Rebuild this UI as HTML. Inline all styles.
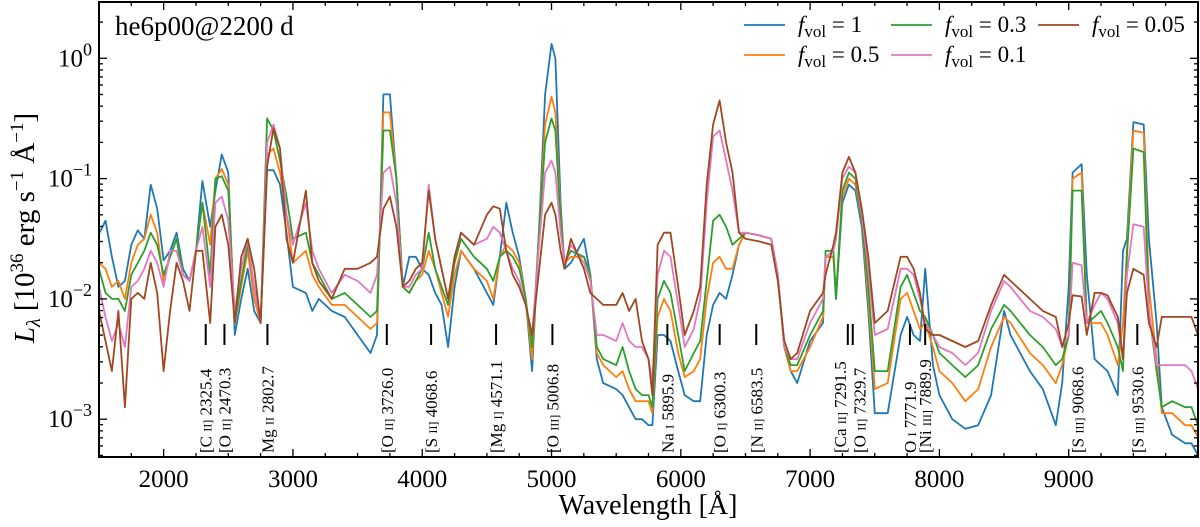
<!DOCTYPE html>
<html><head><meta charset="utf-8">
<style>
html,body{margin:0;padding:0;background:#fff;}
svg{display:block;font-family:"Liberation Serif",serif;}
</style></head>
<body>
<svg id="chart" width="1200" height="527" viewBox="0 0 1200 527" xmlns="http://www.w3.org/2000/svg">
<defs><clipPath id="plotclip"><rect x="99" y="2" width="1099" height="455"/></clipPath></defs>
<g id="series" clip-path="url(#plotclip)"></g>
<g id="markers"></g>
<g id="axes"></g>
<text x="115" y="35" font-size="27">he6p00@2200 d</text>
<text x="648" y="514" font-size="28" text-anchor="middle">Wavelength [Å]</text>
<text transform="translate(34,228) rotate(-90)" font-size="29" text-anchor="middle"><tspan font-style="italic">L</tspan><tspan font-style="italic" font-size="20" dy="6">λ</tspan><tspan dy="-6"> [10</tspan><tspan font-size="19" dy="-11">36</tspan><tspan dy="11"> erg s</tspan><tspan font-size="19" dy="-11">−1</tspan><tspan dy="11"> Å</tspan><tspan font-size="19" dy="-11">−1</tspan><tspan dy="11">]</tspan></text>
<g id="legend"></g>
</svg>
<script>
const wavelengths = [1500,1550,1600,1650,1700,1750,1800,1850,1900,1950,2000,2050,2100,2150,2200,2250,2300,2360,2400,2450,2500,2550,2600,2650,2700,2750,2800,2850,2900,2950,3000,3100,3150,3200,3300,3400,3500,3600,3650,3700,3750,3800,3850,3900,3950,4000,4050,4100,4150,4200,4250,4300,4400,4500,4550,4600,4650,4700,4750,4800,4850,4900,4950,5000,5030,5070,5100,5150,5250,5300,5350,5400,5500,5550,5600,5650,5700,5750,5780,5820,5870,5920,5980,6030,6100,6150,6200,6250,6300,6350,6400,6450,6500,6600,6700,6750,6800,6850,6900,7000,7100,7120,7180,7200,7250,7300,7350,7400,7450,7500,7600,7700,7750,7800,7850,7890,7950,8000,8100,8200,8300,8400,8500,8550,8700,8800,8900,8950,9000,9030,9100,9140,9200,9250,9300,9380,9420,9450,9500,9580,9620,9680,9720,9800,9900,9950,10000];
const logL_f1 = [-1.46,-1.35,-1.65,-1.9,-1.85,-1.55,-1.43,-1.5,-1.05,-1.25,-1.68,-1.6,-1.45,-1.75,-1.85,-1.6,-1.02,-1.4,-1.1,-0.8,-0.95,-2.3,-2.0,-1.75,-2.1,-2.2,-0.93,-0.93,-1.05,-1.45,-1.9,-1.95,-2.1,-2.0,-2.1,-2.15,-2.3,-2.45,-2.3,-0.3,-0.3,-1.0,-1.9,-1.65,-1.65,-1.75,-1.8,-1.95,-2.05,-2.4,-1.9,-1.6,-1.75,-1.95,-2.05,-1.65,-1.2,-1.45,-1.65,-2.0,-2.6,-1.5,-0.3,0.12,0.0,-1.2,-1.75,-1.7,-1.5,-1.8,-2.5,-2.7,-2.75,-2.8,-2.9,-3.0,-3.0,-3.05,-3.05,-2.3,-2.3,-2.35,-2.6,-2.8,-2.85,-2.85,-2.3,-2.05,-1.95,-2.0,-1.8,-1.55,-1.45,-1.47,-1.5,-1.8,-2.4,-2.6,-2.7,-2.35,-2.2,-1.65,-1.65,-2.0,-1.2,-1.05,-1.1,-1.4,-2.1,-2.95,-2.95,-2.3,-2.15,-2.3,-2.35,-1.75,-2.55,-2.8,-3.0,-3.08,-3.05,-2.8,-2.1,-2.3,-2.6,-2.75,-3.05,-2.7,-1.9,-0.95,-0.88,-1.8,-2.5,-2.55,-2.6,-2.8,-1.6,-1.5,-0.53,-0.55,-1.5,-2.2,-2.9,-3.13,-3.2,-3.2,-3.3];
const logL_f05 = [-1.7,-1.75,-1.9,-1.85,-2.0,-1.7,-1.55,-1.5,-1.3,-1.45,-1.85,-1.65,-1.5,-1.8,-1.85,-1.6,-1.2,-1.55,-1.0,-0.92,-1.05,-2.2,-1.9,-1.6,-2.0,-2.2,-0.8,-0.75,-0.95,-1.3,-1.7,-1.6,-1.8,-1.9,-2.05,-2.05,-2.15,-2.25,-2.2,-0.45,-0.45,-1.0,-1.9,-1.95,-1.85,-1.8,-1.6,-1.75,-1.95,-2.15,-1.8,-1.6,-1.75,-1.85,-2.0,-1.65,-1.55,-1.6,-1.7,-2.0,-2.5,-1.5,-0.55,-0.32,-0.45,-1.3,-1.7,-1.65,-1.65,-1.8,-2.45,-2.55,-2.65,-2.6,-2.75,-2.85,-2.85,-2.85,-2.95,-2.15,-2.0,-2.1,-2.45,-2.65,-2.6,-2.5,-2.0,-1.7,-1.65,-1.75,-1.75,-1.55,-1.45,-1.47,-1.5,-1.8,-2.4,-2.6,-2.6,-2.4,-2.15,-1.65,-1.65,-1.95,-1.15,-1.0,-1.05,-1.35,-2.0,-2.75,-2.7,-2.0,-1.95,-2.1,-2.25,-2.2,-2.4,-2.6,-2.7,-2.85,-2.75,-2.4,-2.15,-2.2,-2.45,-2.55,-2.7,-2.55,-2.3,-1.0,-0.95,-2.2,-2.2,-2.2,-2.3,-2.55,-2.2,-1.6,-0.6,-0.62,-1.9,-2.5,-2.95,-2.95,-3.05,-3.05,-3.15];
const logL_f03 = [-1.75,-1.95,-2.0,-2.0,-2.1,-1.8,-1.7,-1.6,-1.45,-1.55,-1.8,-1.65,-1.5,-1.8,-1.85,-1.6,-1.2,-1.8,-1.0,-0.98,-1.1,-2.2,-1.85,-1.55,-1.9,-2.2,-0.5,-0.6,-0.85,-1.15,-1.5,-1.45,-1.7,-1.8,-2.0,-1.95,-2.05,-2.15,-2.1,-0.6,-0.6,-1.0,-1.9,-1.95,-1.85,-1.75,-1.45,-1.75,-1.9,-2.05,-1.7,-1.5,-1.65,-1.75,-1.85,-1.65,-1.6,-1.65,-1.75,-2.0,-2.4,-1.5,-0.7,-0.5,-0.6,-1.35,-1.7,-1.6,-1.65,-1.8,-2.4,-2.5,-2.55,-2.4,-2.6,-2.75,-2.8,-2.8,-2.9,-2.0,-1.85,-1.95,-2.3,-2.6,-2.45,-2.35,-1.85,-1.35,-1.3,-1.4,-1.55,-1.5,-1.45,-1.47,-1.5,-1.8,-2.4,-2.55,-2.55,-2.3,-2.1,-1.6,-1.6,-2.0,-1.1,-0.95,-1.0,-1.35,-1.9,-2.6,-2.6,-1.9,-1.8,-1.95,-2.1,-2.15,-2.3,-2.45,-2.55,-2.65,-2.55,-2.25,-2.05,-2.1,-2.3,-2.4,-2.55,-2.5,-2.3,-1.1,-1.1,-2.2,-2.15,-2.1,-2.2,-2.4,-2.6,-1.65,-0.75,-0.78,-2.1,-2.6,-2.9,-2.85,-2.9,-2.9,-3.05];
const logL_f01 = [-1.9,-2.15,-2.35,-2.2,-2.4,-1.9,-1.85,-1.75,-1.6,-1.7,-1.9,-1.6,-1.6,-1.8,-1.85,-1.6,-1.4,-1.9,-1.2,-1.15,-1.35,-2.1,-1.75,-1.5,-1.9,-2.2,-0.7,-0.55,-0.75,-1.3,-1.55,-1.2,-1.6,-1.75,-1.95,-1.8,-1.85,-1.95,-1.8,-0.95,-0.9,-1.2,-1.9,-1.9,-1.8,-1.75,-1.05,-1.5,-1.75,-2.0,-1.65,-1.45,-1.55,-1.5,-1.4,-1.45,-1.6,-1.75,-1.85,-2.05,-2.3,-1.6,-0.95,-0.85,-0.95,-1.45,-1.7,-1.55,-1.7,-1.85,-2.3,-2.3,-2.35,-2.2,-2.35,-2.4,-2.4,-2.5,-2.7,-1.8,-1.6,-1.65,-2.05,-2.4,-2.25,-2.0,-1.2,-0.65,-0.6,-0.85,-1.1,-1.45,-1.45,-1.47,-1.5,-1.8,-2.4,-2.5,-2.5,-2.2,-2.0,-1.65,-1.6,-1.5,-1.0,-0.9,-0.95,-1.3,-1.75,-2.3,-2.25,-1.75,-1.75,-1.8,-2.0,-2.2,-2.3,-2.4,-2.45,-2.55,-2.45,-2.1,-1.85,-1.9,-2.1,-2.15,-2.25,-2.4,-2.3,-1.7,-1.72,-2.2,-2.05,-1.95,-2.0,-2.2,-2.5,-1.8,-1.38,-1.4,-2.1,-2.55,-2.55,-2.55,-2.55,-2.6,-2.75];
const logL_f005 = [-2.1,-2.35,-2.6,-2.1,-2.9,-2.0,-1.95,-2.0,-1.7,-1.95,-2.6,-2.1,-1.7,-1.85,-2.1,-1.6,-1.6,-2.2,-1.4,-1.3,-1.55,-2.2,-1.65,-1.5,-1.75,-2.2,-0.9,-0.58,-0.75,-1.5,-1.7,-1.1,-1.7,-1.85,-2.0,-1.75,-1.75,-1.7,-1.65,-1.25,-1.15,-1.4,-1.9,-1.85,-1.75,-1.7,-1.1,-1.5,-1.75,-2.0,-1.65,-1.45,-1.55,-1.3,-1.23,-1.25,-1.6,-1.8,-1.9,-2.05,-2.3,-1.8,-1.3,-1.2,-1.3,-1.6,-1.75,-1.5,-1.75,-1.95,-2.0,-2.05,-2.05,-1.95,-2.1,-2.0,-2.35,-2.5,-2.8,-1.55,-1.45,-1.45,-1.9,-2.3,-2.1,-1.9,-1.05,-0.55,-0.35,-0.7,-0.95,-1.45,-1.5,-1.52,-1.55,-1.85,-2.35,-2.5,-2.45,-2.1,-1.95,-1.8,-1.55,-1.45,-0.95,-0.82,-0.95,-1.25,-1.65,-2.2,-2.1,-1.65,-1.65,-1.75,-1.95,-2.25,-2.3,-2.3,-2.35,-2.4,-2.35,-2.05,-1.8,-1.85,-2.0,-2.1,-2.15,-2.4,-2.2,-1.97,-1.98,-2.3,-1.95,-1.95,-1.97,-2.15,-2.5,-1.95,-1.75,-1.8,-2.2,-2.4,-2.15,-2.15,-2.15,-2.15,-2.3];
const seriesLabels = ["1","0.5","0.3","0.1","0.05"];
const seriesColors = ["#1f77b4","#ff7f0e","#2ca02c","#e377c2","#a0481f"];
const xTicks = [2000,3000,4000,5000,6000,7000,8000,9000];
const yTickExps = [0,-1,-2,-3];
const lineWaves = [2325.4,2470.3,2802.7,3726.0,4068.6,4571.1,5006.8,5895.9,6300.3,6583.5,7291.5,7329.7,7771.9,7889.9,9068.6,9530.6];
const lineIons = ["[C ","[O ","Mg ","[O ","[S ","[Mg ","[O ","Na ","[O ","[N ","[Ca ","[O ","O ","[Ni ","[S ","[S "];
const lineStages = ["II]","II]","II","II]","II]","I]","III]","I","I]","II]","II]","II]","I","III]","III]","III]"];

const NS="http://www.w3.org/2000/svg";
const X0=99,X1=1198,Y0=2,Y1=457;
const xmin=1500,xmax=10000;
const yTop=58.3, dec=120.3;
function xs(l){return X0+(l-xmin)/(xmax-xmin)*(X1-X0);}
function ys(lg){return yTop-lg*dec;}
function mk(tag,attrs,parent){const e=document.createElementNS(NS,tag);for(const k in attrs)e.setAttribute(k,attrs[k]);if(parent)parent.appendChild(e);return e;}

const sg=document.getElementById('series');
const allSeries=[logL_f1,logL_f05,logL_f03,logL_f01,logL_f005];
const seriesNames=['series-fvol-1','series-fvol-0.5','series-fvol-0.3','series-fvol-0.1','series-fvol-0.05'];
allSeries.forEach((arr,i)=>{
  let d='';
  arr.forEach((v,j)=>{d+=(j?'L':'M')+xs(wavelengths[j]).toFixed(1)+' '+ys(v).toFixed(1);});
  const p=mk('path',{d:d,fill:'none',stroke:seriesColors[i],'stroke-width':1.8,'stroke-linejoin':'round'},sg);
  
  
});

const ax=document.getElementById('axes');
const frame=mk('rect',{x:X0,y:Y0,width:X1-X0,height:Y1-Y0,fill:'none',stroke:'#000','stroke-width':2},ax);


for(let l=1500;l<=10000;l+=250){
  const x=xs(l); const major=(l%1000===0);
  const L=major?8:4;
  mk('line',{x1:x,x2:x,y1:Y1,y2:Y1-L,stroke:'#000','stroke-width':1.3},ax);
  mk('line',{x1:x,x2:x,y1:Y0,y2:Y0+L,stroke:'#000','stroke-width':1.3},ax);
}
xTicks.forEach(t=>{
  const tx=mk('text',{x:xs(t),y:487,'font-size':25,'text-anchor':'middle'},ax);
  tx.textContent=t;
  
  
});
for(let e=-4;e<=0;e++){
  for(let m=1;m<10;m++){
    const lg=e+Math.log10(m); const y=ys(lg);
    if(y<Y0||y>Y1) continue;
    const L=(m===1)?8:4;
    mk('line',{x1:X0,x2:X0+L,y1:y,y2:y,stroke:'#000','stroke-width':1.3},ax);
    mk('line',{x1:X1,x2:X1-L,y1:y,y2:y,stroke:'#000','stroke-width':1.3},ax);
  }
}
yTickExps.forEach(e=>{
  const t=mk('text',{x:92,y:ys(e)+8,'font-size':25,'text-anchor':'end'},ax);
  
  
  const a=mk('tspan',{},t); a.textContent='10';
  const b=mk('tspan',{'font-size':18,dy:-11},t); b.textContent=(e===0?'0':'−'+(-e));
});

const mg=document.getElementById('markers');
const labelOffsets={7291.5:-8,7329.7:7};
lineWaves.forEach((w,i)=>{
  const x=xs(w);
  const tk=mk('line',{x1:x,x2:x,y1:324,y2:345,stroke:'#000','stroke-width':2},mg);
  
  
  const lx=x+6+(labelOffsets[w]||0);
  const t=mk('text',{transform:'translate('+lx.toFixed(1)+',453) rotate(-90)','font-size':17},mg);
  
  
  const a=mk('tspan',{},t); a.textContent=lineIons[i];
  const b=mk('tspan',{'font-size':12},t); b.textContent=lineStages[i];
  const c=mk('tspan',{},t); c.textContent=' '+w.toFixed(1);
});

const lg=document.getElementById('legend');
const legPos=[[744,25],[744,55],[891,25],[891,55],[1038,25]];
seriesLabels.forEach((s,i)=>{
  const [x,y]=legPos[i];
  const g=mk('g',{},lg);
  
  
  mk('line',{x1:x,x2:x+41,y1:y,y2:y,stroke:seriesColors[i],'stroke-width':1.8},g);
  const t=mk('text',{x:x+54,y:y+7,'font-size':23},g);
  const a=mk('tspan',{'font-style':'italic'},t); a.textContent='f';
  const b=mk('tspan',{'font-size':17,dy:5},t); b.textContent='vol';
  const c=mk('tspan',{dy:-5},t); c.textContent=' = '+s;
});
</script>
</body></html>
